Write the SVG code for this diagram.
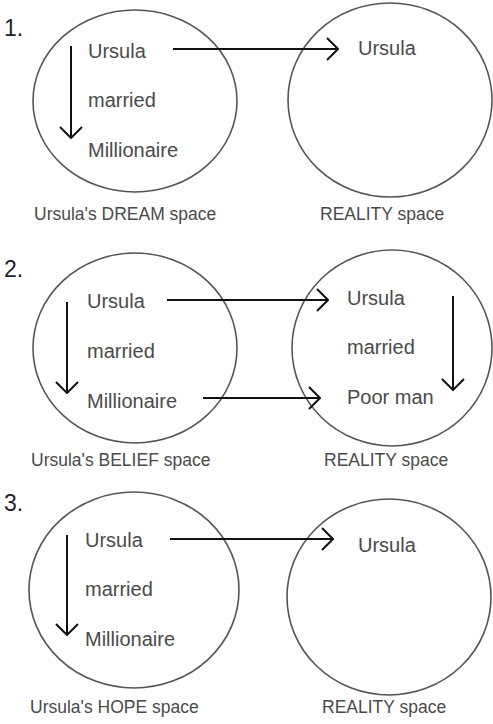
<svg xmlns="http://www.w3.org/2000/svg" width="493" height="724" viewBox="0 0 493 724">
<style>
.bg{fill:#ffffff}
.space{fill:none;stroke:#555555;stroke-width:1.6}
.t{font-family:"Liberation Sans",Arial,sans-serif;font-size:20px;fill:#4a4a4a}
.num{font-family:"Liberation Sans",Arial,sans-serif;font-size:23px;fill:#222222}
.cap{font-family:"Liberation Sans",Arial,sans-serif;font-size:17.5px;fill:#4a4a4a}
.conn{fill:none;stroke:#111111;stroke-width:2;marker-end:url(#chev)}
</style>
<defs>
<marker id="chev" markerUnits="userSpaceOnUse" viewBox="0 0 13 24" refX="12" refY="12" markerWidth="13" markerHeight="24" orient="auto">
<path d="M1,1 L12,12 L1,23" fill="none" stroke="#111111" stroke-width="2"/>
</marker>
</defs>
<rect class="bg" x="0" y="0" width="493" height="724"/>

<g id="panel1">
<text class="num" x="4" y="36">1.</text>
<g id="dream">
<ellipse class="space" cx="135" cy="101" rx="102" ry="91"/>
<text class="t" x="88" y="58">Ursula</text>
<text class="t" x="88" y="107">married</text>
<text class="t" x="88" y="157">Millionaire</text>
<text class="cap" x="34" y="220">Ursula's DREAM space</text>
</g>
<g id="reality1">
<ellipse class="space" cx="390" cy="100" rx="102" ry="97"/>
<text class="t" x="358" y="55">Ursula</text>
<text class="cap" x="320" y="220">REALITY space</text>
</g>
</g>

<g id="panel2">
<text class="num" x="4" y="277">2.</text>
<g id="belief">
<ellipse class="space" cx="135" cy="348" rx="102" ry="95"/>
<text class="t" x="87" y="308">Ursula</text>
<text class="t" x="87" y="358">married</text>
<text class="t" x="87" y="408">Millionaire</text>
<text class="cap" x="31" y="466">Ursula's BELIEF space</text>
</g>
<g id="reality2">
<ellipse class="space" cx="392" cy="348" rx="100" ry="98"/>
<text class="t" x="347" y="305">Ursula</text>
<text class="t" x="347" y="354">married</text>
<text class="t" x="347" y="404">Poor man</text>
<text class="cap" x="324" y="466">REALITY space</text>
</g>
</g>

<g id="panel3">
<text class="num" x="4" y="511">3.</text>
<g id="hope">
<ellipse class="space" cx="134" cy="590" rx="105" ry="98"/>
<text class="t" x="85" y="547">Ursula</text>
<text class="t" x="85" y="596">married</text>
<text class="t" x="85" y="646">Millionaire</text>
<text class="cap" x="30" y="713">Ursula's HOPE space</text>
</g>
<g id="reality3">
<ellipse class="space" cx="389" cy="597" rx="102" ry="98"/>
<text class="t" x="358" y="552">Ursula</text>
<text class="cap" x="322" y="713">REALITY space</text>
</g>
</g>

<g id="connectors">
<line class="conn" x1="71" y1="46" x2="71" y2="138"/>
<line class="conn" x1="173" y1="49" x2="338" y2="49"/>
<line class="conn" x1="67" y1="302" x2="67" y2="393"/>
<line class="conn" x1="167" y1="300" x2="328" y2="300"/>
<line class="conn" x1="203" y1="398" x2="320" y2="398"/>
<line class="conn" x1="453" y1="296" x2="453" y2="390"/>
<line class="conn" x1="67" y1="535" x2="67" y2="635"/>
<line class="conn" x1="170" y1="539" x2="333" y2="539"/>
</g>
</svg>
